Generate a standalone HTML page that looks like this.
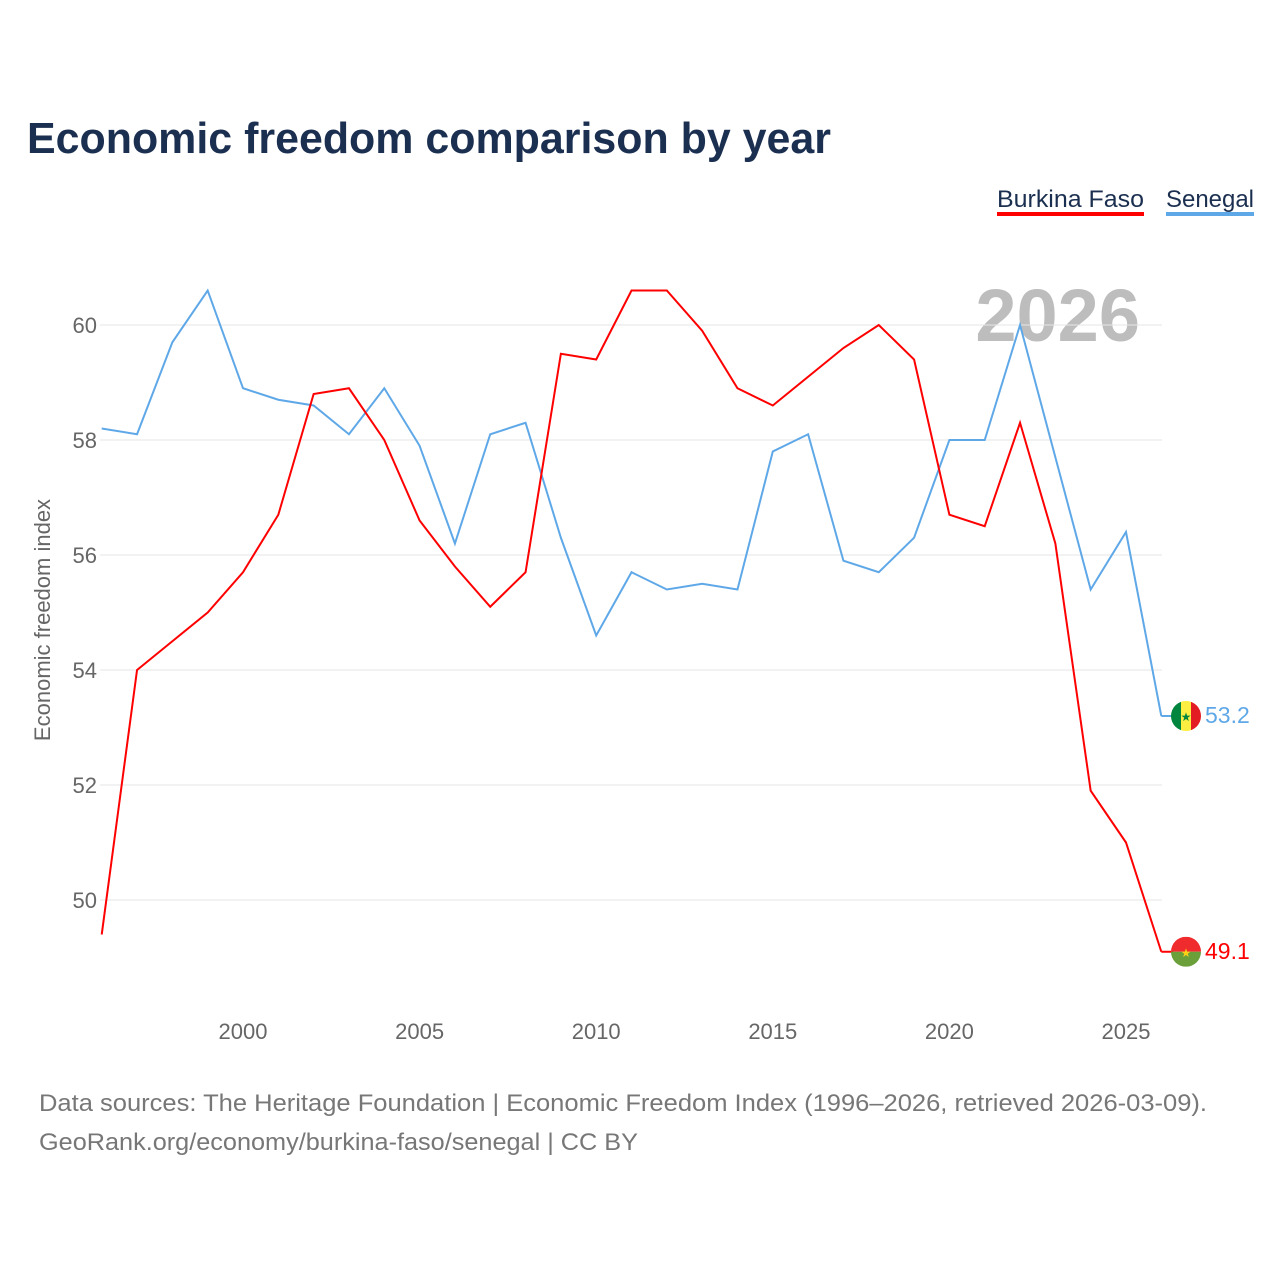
<!DOCTYPE html>
<html><head><meta charset="utf-8"><style>
body{margin:0;background:#fff;font-family:"Liberation Sans",sans-serif;}
svg text{font-family:"Liberation Sans",sans-serif;}
</style></head><body>
<svg id="chart" width="1280" height="1280" xmlns="http://www.w3.org/2000/svg">
<text x="27" y="153" font-size="44" font-weight="bold" fill="#1b2f50" textLength="804" lengthAdjust="spacingAndGlyphs">Economic freedom comparison by year</text>
<g>
<text x="997" y="207" font-size="24" fill="#1b2f50" textLength="147" lengthAdjust="spacingAndGlyphs">Burkina Faso</text>
<rect x="997" y="212" width="147" height="4" fill="#ff0000"/>
<text x="1166" y="207" font-size="24" fill="#1b2f50" textLength="88" lengthAdjust="spacingAndGlyphs">Senegal</text>
<rect x="1166" y="212" width="88" height="4" fill="#5fa8e8"/>
</g>
<text x="1140" y="341" font-size="74" font-weight="bold" fill="#bdbdbd" text-anchor="end">2026</text>
<text transform="translate(50,620) rotate(-90)" font-size="22" fill="#666" text-anchor="middle">Economic freedom index</text>
<g id="grid"></g><g id="lines"></g>
<text x="39" y="1111" font-size="24" fill="#777" textLength="1168" lengthAdjust="spacingAndGlyphs">Data sources: The Heritage Foundation | Economic Freedom Index (1996–2026, retrieved 2026-03-09).</text>
<text x="39" y="1150" font-size="24" fill="#777" textLength="599" lengthAdjust="spacingAndGlyphs">GeoRank.org/economy/burkina-faso/senegal | CC BY</text>
</svg>
<script>
const years=[1996,1997,1998,1999,2000,2001,2002,2003,2004,2005,2006,2007,2008,2009,2010,2011,2012,2013,2014,2015,2016,2017,2018,2019,2020,2021,2022,2023,2024,2025,2026];
const burkina=[49.4,54.0,54.5,55.0,55.7,56.7,58.8,58.9,58.0,56.6,55.8,55.1,55.7,59.5,59.4,60.6,60.6,59.9,58.9,58.6,59.1,59.6,60.0,59.4,56.7,56.5,58.3,56.2,51.9,51.0,49.1];
const senegal=[58.2,58.1,59.7,60.6,58.9,58.7,58.6,58.1,58.9,57.9,56.2,58.1,58.3,56.3,54.6,55.7,55.4,55.5,55.4,57.8,58.1,55.9,55.7,56.3,58.0,58.0,60.0,57.7,55.4,56.4,53.2];
const yTicks=[50,52,54,56,58,60];
const xTicks=[2000,2005,2010,2015,2020,2025];
const NS="http://www.w3.org/2000/svg";
const X=y=>243+(y-2000)*(1126-243)/25;
const Y=v=>325+(60-v)*57.5;
function mk(t,a,p){const e=document.createElementNS(NS,t);for(const k in a)e.setAttribute(k,a[k]);p.appendChild(e);return e;}
const g=document.getElementById('grid'),L=document.getElementById('lines');
yTicks.forEach(v=>{
 const l=mk('line',{x1:100,x2:1162,y1:Y(v),y2:Y(v),stroke:'#e6e6e6','stroke-width':1},g);
 
 
 const t=mk('text',{x:97,y:Y(v)+8,'font-size':22,fill:'#666','text-anchor':'end'},g);t.textContent=v;
 
 
});
xTicks.forEach(v=>{
 const t=mk('text',{x:X(v),y:1039,'font-size':22,fill:'#666','text-anchor':'middle'},g);t.textContent=v;
 
 
});
function series(vals,color,name){
 const p=mk('polyline',{points:vals.map((v,i)=>X(years[i])+','+Y(v)).join(' '),fill:'none',stroke:color,'stroke-width':2},L);
 
 
 const last=vals[vals.length-1],lx=X(years[years.length-1]),ly=Y(last);
 mk('line',{x1:lx,x2:lx+12,y1:ly,y2:ly,stroke:color,'stroke-width':2},L);
 const t=mk('text',{x:1205,y:ly+7,'font-size':23,fill:color},L);t.textContent=last.toFixed(1);
 
 
 return ly;
}
const sy=series(senegal,'#5fa8e8','senegal');
const by=series(burkina,'#ff0000','burkina-faso');
const cx=1186;
const fs=mk('g',{},L);


const cs=mk('clipPath',{id:'cs'},fs);mk('circle',{cx:cx,cy:sy,r:15},cs);
const sg=mk('g',{'clip-path':'url(#cs)'},fs);
mk('rect',{x:cx-15,y:sy-15,width:10,height:30,fill:'#00853f'},sg);
mk('rect',{x:cx-5,y:sy-15,width:10,height:30,fill:'#fdef42'},sg);
mk('rect',{x:cx+5,y:sy-15,width:10,height:30,fill:'#e31b23'},sg);
const s1=mk('text',{x:cx,y:sy+5,'font-size':12,fill:'#00853f','text-anchor':'middle'},sg);s1.textContent='★';
const fb=mk('g',{},L);


const cb=mk('clipPath',{id:'cb'},fb);mk('circle',{cx:cx,cy:by,r:15},cb);
const bg=mk('g',{'clip-path':'url(#cb)'},fb);
mk('rect',{x:cx-15,y:by-15,width:30,height:15,fill:'#ef2b2d'},bg);
mk('rect',{x:cx-15,y:by,width:30,height:15,fill:'#6a9f3a'},bg);
const s2=mk('text',{x:cx,y:by+5,'font-size':12,fill:'#fcd116','text-anchor':'middle'},fb);s2.textContent='★';
</script>
</body></html>
